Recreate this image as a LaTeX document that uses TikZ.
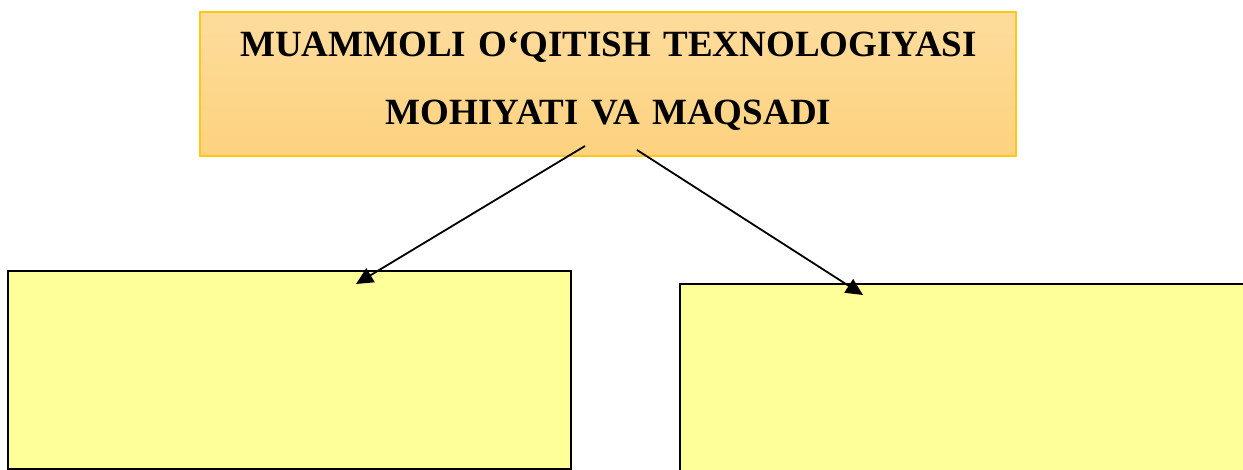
\documentclass[tikz,border=0pt]{standalone}
\usepackage{fontspec}
\setmainfont{Liberation Serif}
\usetikzlibrary{arrows.meta}
\definecolor{boxyellow}{HTML}{FFFF99}
\definecolor{topborder}{HTML}{FFC819}
\definecolor{toptop}{HTML}{FDDC9C}
\definecolor{topbot}{HTML}{FDD27F}
\tikzset{
  titlebox/.style={draw=topborder, line width=1.5pt, top color=toptop, bottom color=topbot, inner sep=0pt},
  answerbox/.style={draw=black, line width=2.2pt, fill=boxyellow, inner sep=0pt},
  link/.style={draw=black, line width=1.8pt, -{Triangle[length=17pt,width=16pt]}},
  titletext/.style={font=\fontsize{37}{68}\selectfont\bfseries, align=center, text width=800pt}
}
\begin{document}
\begin{tikzpicture}[x=1pt,y=-1pt]
\useasboundingbox (0,0) rectangle (1243,470);
\node[titlebox, minimum width=816pt, minimum height=144pt] (top) at (608,84) {};
\node[titletext, anchor=base] (t1) at (608.5,57) {MUAMMOLI O‘QITISH TEXNOLOGIYASI};
\node[titletext, anchor=base] (t2) at (608.5,125) {MOHIYATI VA MAQSADI};
\node[answerbox, minimum width=563pt, minimum height=198pt] (left) at (289.5,370) {};
\node[answerbox, minimum width=600pt, minimum height=220pt] (right) at (980,394) {};
\coordinate (s1) at (585,146);
\coordinate (e1) at (356,284);
\coordinate (s2) at (637,150);
\coordinate (e2) at (863,295);
\draw[link] (s1) -- (e1);
\draw[link] (s2) -- (e2);
\end{tikzpicture}
\end{document}
